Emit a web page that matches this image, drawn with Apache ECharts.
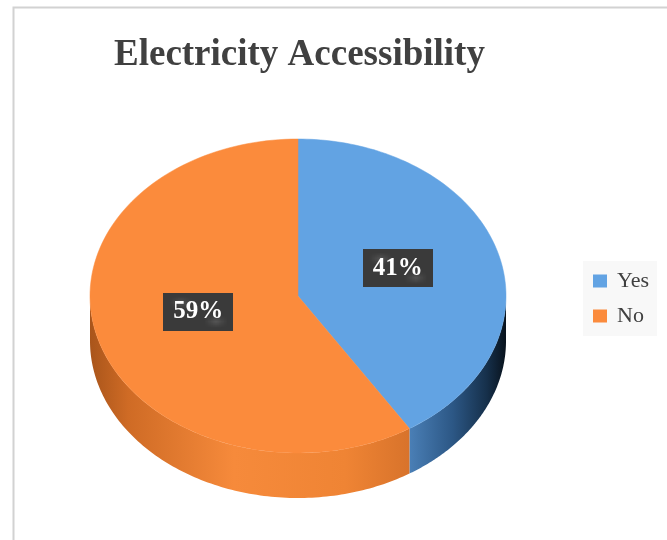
<!DOCTYPE html>
<html>
<head>
<meta charset="utf-8">
<script src="https://cdn.jsdelivr.net/npm/echarts@6/dist/echarts.min.js"></script>
<style>
html,body{margin:0;padding:0;background:#fff;}
#main{width:667px;height:540px;}
</style>
</head>
<body>
<div id="main"></div>
<script>
const titleText = 'Electricity Accessibility';
const categories = ['Yes', 'No'];
const values = [41, 59];

const topColors = ['#62A3E3', '#FB8B3C'];
const sideStops = [
  [[0, '#4a7fb6'], [0.45, '#2c5785'], [0.8, '#16304b'], [1, '#08121c']],
  [[0, '#a9551b'], [0.12, '#cf6b25'], [0.45, '#f68a3b'], [0.8, '#ef8434'], [1, '#d8732b']]
];

const total = values.reduce((a, b) => a + b, 0);
const CX = 298, CY = 296, RX = 208, RY = 157, DEPTH = 45;

const patCanvas = document.createElement('canvas');
patCanvas.width = 6; patCanvas.height = 6;
(function () {
  const g = patCanvas.getContext('2d');
  g.fillStyle = '#3a3a3a'; g.fillRect(0, 0, 6, 6);
  g.fillStyle = '#555555'; g.fillRect(1, 1, 1, 1); g.fillRect(4, 4, 1, 1);
})();

function pt(t, dy) {
  return [CX + RX * Math.sin(t), CY - RY * Math.cos(t) + (dy || 0)];
}

function renderSlice(params, api) {
  const idx = params.seriesIndex;
  let before = 0;
  for (let i = 0; i < idx; i++) before += values[i];
  const v = api.value(0);
  const a0 = before / total * Math.PI * 2;
  const a1 = (before + v) / total * Math.PI * 2;
  const children = [];
  const N = 120;
  const topPts = [[CX, CY]];
  for (let k = 0; k <= N; k++) topPts.push(pt(a0 + (a1 - a0) * k / N));
  children.push({
    type: 'polygon', z2: 10,
    shape: { points: topPts },
    style: { fill: topColors[idx], stroke: topColors[idx], lineWidth: 0.5 }
  });
  const s0 = Math.max(a0, Math.PI / 2), s1 = Math.min(a1, Math.PI * 1.5);
  if (s0 < s1) {
    const sp = [];
    for (let k = 0; k <= N; k++) sp.push(pt(s0 + (s1 - s0) * k / N));
    for (let k = N; k >= 0; k--) sp.push(pt(s0 + (s1 - s0) * k / N, DEPTH));
    const xa = pt(s0)[0], xb = pt(s1)[0];
    const xl = Math.min(xa, xb), xr = Math.max(xa, xb);
    children.push({
      type: 'polygon', z2: 1,
      shape: { points: sp },
      style: {
        fill: {
          type: 'linear', x: xl, y: 0, x2: xr, y2: 0, global: true,
          colorStops: sideStops[idx].map(s => ({ offset: s[0], color: s[1] }))
        }
      }
    });
  }
  const m = (a0 + a1) / 2;
  const lx = CX + 0.5 * RX * Math.sin(m);
  const ly = CY - 0.5 * RY * Math.cos(m) - 6;
  children.push({
    type: 'text', z2: 100, x: lx, y: ly,
    style: {
      text: Math.round(v / total * 100) + '%',
      fill: '#ffffff',
      font: 'bold 25px "Liberation Serif", "Times New Roman", serif',
      align: 'center', verticalAlign: 'middle',
      backgroundColor: { image: patCanvas, repeat: 'repeat' },
      padding: [7, 10, 6, 10],
      boxShadowBlur: 6,
      boxShadowColor: 'rgba(0,0,0,0.55)',
      boxShadowOffsetX: 3,
      boxShadowOffsetY: 3
    }
  });
  return { type: 'group', children: children };
}

const chart = echarts.init(document.getElementById('main'), null, { renderer: 'canvas' });
chart.setOption({
  animation: false,
  backgroundColor: '#ffffff',
  title: {
    text: titleText,
    left: 114,
    top: 37,
    padding: 0,
    textStyle: {
      fontFamily: '"Liberation Serif", "Times New Roman", serif',
      fontWeight: 'bold',
      fontSize: 37,
      color: '#404040'
    }
  },
  graphic: [{
    type: 'rect', left: 11, top: 5,
    shape: { width: 700, height: 560 },
    style: { fill: 'none', stroke: '#d2d2d2', lineWidth: 2 },
    silent: true
  }],
  legend: {
    data: categories,
    orient: 'vertical',
    left: 583,
    top: 261,
    padding: [9, 8, 9, 10],
    backgroundColor: '#f8f8f8',
    icon: 'rect',
    itemWidth: 14,
    itemHeight: 13,
    itemGap: 13,
    textStyle: {
      fontFamily: '"Liberation Serif", "Times New Roman", serif',
      fontSize: 22,
      lineHeight: 22,
      color: '#404040',
      padding: [0, 0, 0, 5]
    }
  },
  series: categories.map((name, i) => ({
    type: 'custom',
    name: name,
    coordinateSystem: 'none',
    itemStyle: { color: topColors[i] },
    data: [[values[i]]],
    renderItem: renderSlice
  }))
});
</script>
</body>
</html>
